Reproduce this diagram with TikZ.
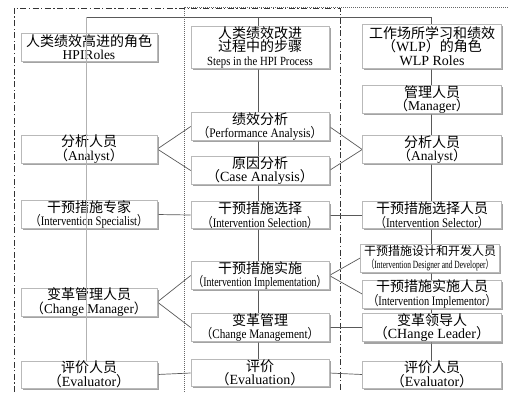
\documentclass[tikz,border=0pt]{standalone}
\usepackage{fontspec}
\usepackage{graphicx}
\setmainfont{Liberation Serif}
\newfontfamily\cjk{Noto Sans CJK SC}
\usetikzlibrary{shadows,backgrounds}
\newcommand\lp{{\cjk （}}
\newcommand\rp{{\cjk ）}}
\newcommand\zh[1]{{\cjk #1}}
\newcommand\en[3]{{\fontsize{#1}{13}\selectfont\scalebox{#2}[1]{#3}}}
\tikzset{
  box/.style={draw=gray!55, line width=0.6pt, fill=white, inner sep=0pt, align=center,
    text=black, font=\fontsize{14}{13.5}\selectfont,
    drop shadow={shadow xshift=1.8pt, shadow yshift=-1.8pt, fill=gray!90, opacity=0.8}},
  lcol/.style={box, minimum width=136pt},
  mcol/.style={box, minimum width=138pt},
  rcol/.style={box, minimum width=139pt},
  conn/.style={draw=gray!70!black, line width=0.7pt},
  dashdotframe/.style={draw=black!80, line width=0.9pt, dash pattern=on 6pt off 2.5pt on 1.2pt off 2.5pt},
  dotframe/.style={draw=gray!80!black, line width=0.6pt, dash pattern=on 0.8pt off 1.2pt}
}
\begin{document}
\begin{tikzpicture}[x=1pt,y=-1pt]
\useasboundingbox (0,0) rectangle (508,392);
% left column
\node[lcol, minimum height=28pt] (hpiL) at (89,47) {\zh{人类绩效高进的角色}\\\en{13.5}{1}{HPIRoles}};
\node[lcol, minimum height=28pt] (anL) at (89,149) {\zh{分析人员}\\\en{13.5}{1}{\lp Analyst\rp}};
\node[lcol, minimum height=27pt] (spL) at (89,214.5) {\zh{干预措施专家}\\\en{13}{0.82}{\lp Intervention Specialist\rp}};
\node[lcol, minimum height=26pt] (chL) at (89,302) {\zh{变革管理人员}\\\en{13.5}{0.97}{\lp Change Manager\rp}};
\node[lcol, minimum height=25pt] (evL) at (89,374.5) {\zh{评价人员}\\\en{14}{1}{\lp Evaluator\rp}};
% middle column
\node[mcol, minimum height=42pt] (hdM) at (260,47) {\zh{人类绩效改进}\\\zh{过程中的步骤}\\\en{12.5}{0.86}{Steps in the HPI Process}};
\node[mcol, minimum height=27pt] (paM) at (260,126.5) {\zh{绩效分析}\\\en{13}{0.88}{\lp Performance Analysis\rp}};
\node[mcol, minimum height=25pt] (caM) at (260,170.5) {\zh{原因分析}\\\en{14}{1}{\lp Case Analysis\rp}};
\node[mcol, minimum height=26pt] (isM) at (260,215) {\zh{干预措施选择}\\\en{13}{0.82}{\lp Intervention Selection\rp}};
\node[mcol, minimum height=27pt] (iiM) at (260,275.5) {\zh{干预措施实施}\\\en{13}{0.76}{\lp Intervention Implementation\rp}};
\node[mcol, minimum height=27pt] (cmM) at (260,327.5) {\zh{变革管理}\\\en{13}{0.86}{\lp Change Management\rp}};
\node[mcol, minimum height=26pt] (evM) at (260,373) {\zh{评价}\\\en{14}{1}{\lp Evaluation\rp}};
% right column
\node[rcol, minimum height=44pt] (hdR) at (432,46) {\zh{工作场所学习和绩效}\\\lp\en{14}{1}{WLP}\rp\zh{的角色}\\\en{14}{1}{WLP Roles}};
\node[rcol, minimum height=27pt] (mgR) at (432,99.5) {\zh{管理人员}\\\en{13.5}{1}{\lp Manager\rp}};
\node[rcol, minimum height=27pt] (anR) at (432,149.5) {\zh{分析人员}\\\en{13.5}{1}{\lp Analyst\rp}};
\node[rcol, minimum height=26pt] (seR) at (432,215) {\zh{干预措施选择人员}\\\en{13}{0.84}{\lp Intervention Selector\rp}};
\node[rcol, minimum height=28pt] (deR) at (430,258) {{\fontsize{12}{13}\selectfont\zh{干预措施设计和开发人员}}\\\en{11}{0.68}{\lp Intervention Designer and Developer\rp}};
\node[rcol, minimum height=26pt] (imR) at (432,294) {\zh{干预措施实施人员}\\\en{13}{0.8}{\lp Intervention Implementor\rp}};
\node[rcol, minimum height=27pt] (ldR) at (432,327.5) {\zh{变革领导人}\\\en{14}{1}{\lp CHange Leader\rp}};
\node[rcol, minimum height=25pt] (evR) at (432,374.5) {\zh{评价人员}\\\en{14}{1}{\lp Evaluator\rp}};
% bus coordinates
\coordinate (bL) at (86,17);
\coordinate (bM) at (258,17);
\coordinate (bR) at (431,17);
\begin{pgfonlayer}{background}
  \draw[dashdotframe] (14,392) -- (14,8) -- (340,8) -- (340,392);
  \draw[dotframe] (184,392) -- (184,7) -- (508,7);
  \draw[conn] (bL) -- (bR);
  \draw[conn] (bM) -- (bM |- evM.north);
  \draw[conn] (bR) -- (bR |- evR.north);
  \draw[conn] (anL.east) -- (paM.west);
  \draw[conn] (anL.east) -- (caM.west);
  \draw[conn] (paM.east) -- (anR.west);
  \draw[conn] (caM.east) -- (anR.west);
  \draw[conn] (spL.east) -- (isM.west);
  \draw[conn] (isM.east) -- (seR.west);
  \draw[conn] (chL.east) -- (iiM.west);
  \draw[conn] (chL.east) -- (cmM.west);
  \draw[conn] (iiM.east) -- (deR.west);
  \draw[conn] (iiM.east) -- (imR.west);
  \draw[conn] (cmM.east) -- (ldR.west);
  \draw[conn] (evL.east) -- (evM.west);
  \draw[conn] (evM.east) -- (evR.west);
\end{pgfonlayer}
\draw[conn, draw=gray!60] (bL) -- (bL |- evL.north);
\end{tikzpicture}
\end{document}
